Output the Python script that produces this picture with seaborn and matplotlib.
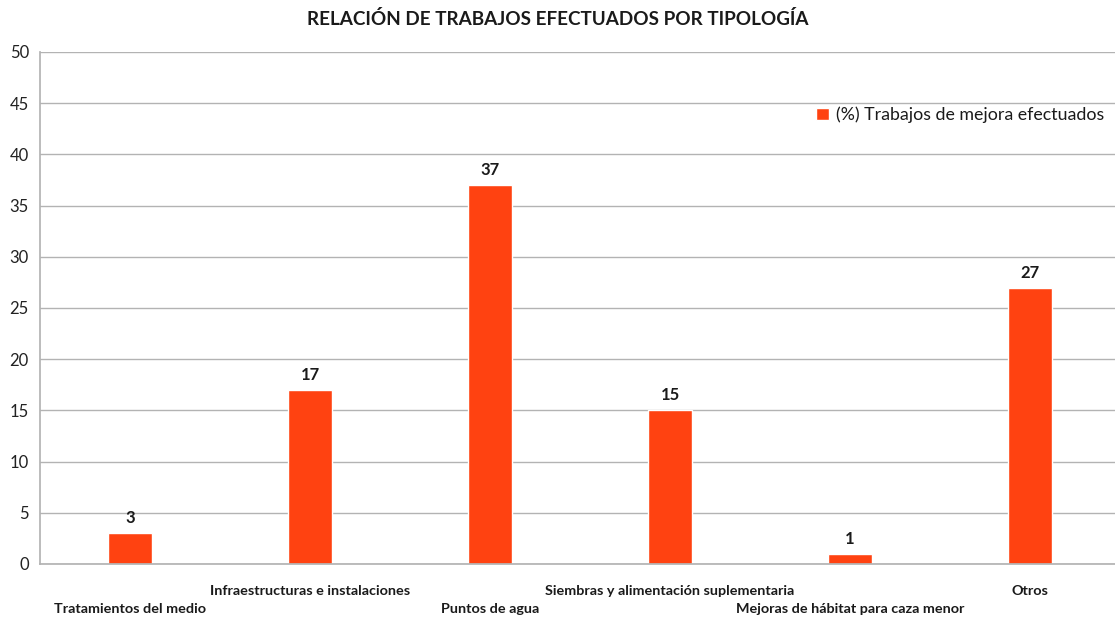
import matplotlib
matplotlib.use("Agg")
import matplotlib.pyplot as plt
import seaborn as sns
import pandas as pd

categories = ["Tratamientos del medio", "Infraestructuras e instalaciones", "Puntos de agua",
              "Siembras y alimentación suplementaria", "Mejoras de hábitat para caza menor", "Otros"]
values = [3, 17, 37, 15, 1, 27]
series_name = "(%) Trabajos de mejora efectuados"
title = "RELACIÓN DE TRABAJOS EFECTUADOS POR TIPOLOGÍA"
yticks = list(range(0, 51, 5))

sns.set_theme(style="white")
plt.rcParams['font.family'] = ['Lato', 'DejaVu Sans']

df = pd.DataFrame({"cat": categories, "val": values, "serie": series_name})

fig = plt.figure(figsize=(11.15, 6.18), dpi=100)
ax = fig.add_axes([40/1115, 1-564/618, 1080/1115, 512/618])
sns.barplot(data=df, x="cat", y="val", hue="serie", palette=["#FF4211"], width=0.245,
            ax=ax, saturation=1, legend=True)

ax.set_ylim(0, 50)
ax.set_xlim(-0.5, 5.5)
ax.set_yticks(yticks)
ax.set_yticklabels([str(t) for t in yticks], fontsize=12, color="#222222")
ax.yaxis.grid(True, color="#b3b3b3", linewidth=1)
ax.set_axisbelow(True)
for s in ["top", "right"]:
    ax.spines[s].set_visible(False)
ax.spines["left"].set_color("#b3b3b3")
ax.spines["bottom"].set_color("#b3b3b3")
ax.tick_params(axis="y", length=0, pad=8)
ax.tick_params(axis="x", length=0)
ax.set_xlabel("")
ax.set_ylabel("")

ax.set_xticks(range(len(categories)))
ax.set_xticklabels([])
for i, c in enumerate(categories):
    off = 28 if i % 2 == 0 else 15
    ax.annotate(c, xy=(i, 0), xycoords=("data", "axes fraction"), xytext=(0, -off),
                textcoords="offset points", ha="center", va="top", fontsize=10.4,
                fontweight="bold", color="#1a1a1a")

for cont in ax.containers:
    ax.bar_label(cont, labels=[str(v) for v in values], padding=5, fontsize=12,
                 fontweight="bold", color="#1a1a1a")

leg = ax.legend(loc="upper right", bbox_to_anchor=(1.0, 0.925), frameon=False, fontsize=12.8,
                handlelength=0.7, handleheight=0.7, handletextpad=0.4)
for t in leg.get_texts():
    t.set_color("#1a1a1a")

fig.text(0.5, 1-19/618, title, ha="center", va="center", fontsize=13.6, fontweight="bold",
         color="#1a1a1a")

fig.savefig("out.png", dpi=100)
